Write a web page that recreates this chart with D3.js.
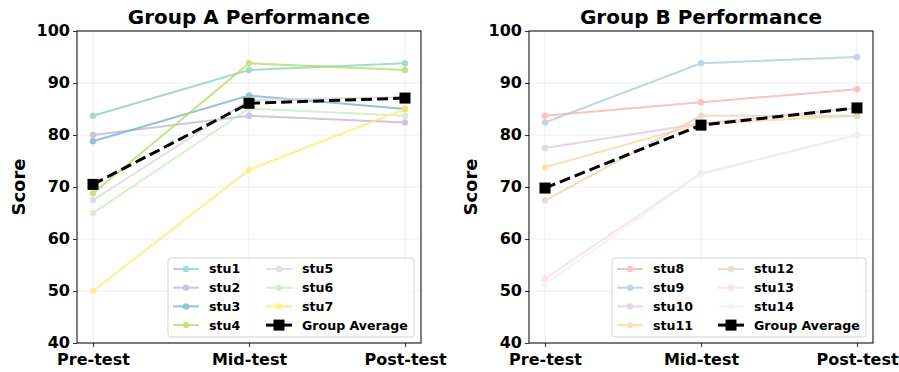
<!DOCTYPE html>
<html>
<head>
<meta charset="utf-8">
<script src="https://cdn.jsdelivr.net/npm/d3@7"></script>
<style>
  body { margin: 0; background: #fff; }
  svg text { font-family: "DejaVu Sans", sans-serif; font-weight: bold; fill: #000; }
</style>
</head>
<body>
<div id="chart"></div>
<script>
// data
const tests = ['Pre-test', 'Mid-test', 'Post-test'];
const yTicks = [40, 50, 60, 70, 80, 90, 100];

const groupANames = ['stu1', 'stu2', 'stu3', 'stu4', 'stu5', 'stu6', 'stu7'];
const groupAScores = [
  [83.7, 92.5, 93.8],
  [80.0, 83.7, 82.4],
  [78.8, 87.6, 85.0],
  [68.8, 93.8, 92.5],
  [67.5, 86.7, 87.3],
  [65.0, 85.1, 83.7],
  [50.0, 73.3, 85.0]
];
const groupAAvg = [70.5, 86.1, 87.1];
const groupAColors = ['#8dd3c7', '#bebada', '#80b1d3', '#b3de69', '#d9d9d9', '#ccebc5', '#ffed6f'];

const groupBNames = ['stu8', 'stu9', 'stu10', 'stu11', 'stu12', 'stu13', 'stu14'];
const groupBScores = [
  [83.7, 86.3, 88.8],
  [82.4, 93.8, 95.0],
  [77.5, 82.2, 85.2],
  [73.8, 82.2, 83.7],
  [67.4, 83.7, 83.7],
  [52.4, 72.6, 80.0],
  [51.3, 72.5, 80.0]
];
const groupBAvg = [69.8, 81.9, 85.2];
const groupBColors = ['#fbb4ae', '#b3cde3', '#decbe4', '#fed9a6', '#e5d8bd', '#fddaec', '#f2f2f2'];

const W = 899, H = 372;
const svg = d3.select('#chart').append('svg')
  .attr('width', W)
  .attr('height', H);

function drawPanel(left, title, names, scores, avg, colors, legendX, legendW, col2X) {
  let plotW = 344, top = 31, plotH = 312;

  let g = svg.append('g').attr('transform', `translate(${left},${top})`);

  let x = d3.scalePoint().domain(tests).range([16, plotW - 16]);
  let y = d3.scaleLinear().domain([40, 100]).range([plotH, 0]);

  // grid
  g.append('g').selectAll('line').data(yTicks).enter().append('line')
    .attr('x1', 0).attr('x2', plotW)
    .attr('y1', d => y(d)).attr('y2', d => y(d))
    .attr('stroke', '#b0b0b0').attr('stroke-opacity', 0.3).attr('stroke-width', 0.8);
  g.append('g').selectAll('line').data(tests).enter().append('line')
    .attr('x1', d => x(d)).attr('x2', d => x(d))
    .attr('y1', 0).attr('y2', plotH)
    .attr('stroke', '#b0b0b0').attr('stroke-opacity', 0.3).attr('stroke-width', 0.8);

  // axes
  let yAxis = g.append('g')
    .call(d3.axisLeft(y).tickValues(yTicks).tickSize(4).tickPadding(3));
  let xAxis = g.append('g')
    .attr('transform', `translate(0,${plotH})`)
    .call(d3.axisBottom(x).tickSize(4).tickPadding(3));
  [xAxis, yAxis].forEach(a => {
    a.select('.domain').remove();
    a.selectAll('text').style('font-size', '16px').style('font-family', '"DejaVu Sans", sans-serif').attr('font-weight', 'bold');
    a.selectAll('line').attr('stroke', '#000').attr('stroke-width', 0.8);
  });
  xAxis.selectAll('text').attr('dy', '0.95em');
  yAxis.selectAll('text').attr('dy', '0.3em');

  // frame
  g.append('rect')
    .attr('width', plotW).attr('height', plotH)
    .attr('fill', 'none').attr('stroke', '#000').attr('stroke-width', 1);

  let line = d3.line()
    .x((d, i) => x(tests[i]))
    .y(d => y(d));

  // students
  scores.forEach((s, k) => {
    let sg = g.append('g').attr('opacity', 0.8);
    sg.append('path')
      .attr('d', line(s))
      .attr('fill', 'none')
      .attr('stroke', colors[k])
      .attr('stroke-width', 2);
    sg.selectAll('circle').data(s).enter().append('circle')
      .attr('cx', (d, i) => x(tests[i]))
      .attr('cy', d => y(d))
      .attr('r', 3.2)
      .attr('fill', colors[k]);
  });

  // group average
  g.append('path')
    .attr('d', line(avg))
    .attr('fill', 'none')
    .attr('stroke', '#000')
    .attr('stroke-width', 3)
    .attr('stroke-dasharray', '11,5');
  g.selectAll('.avg-mark').data(avg).enter().append('rect')
    .attr('class', 'avg-mark')
    .attr('x', (d, i) => x(tests[i]) - 5.5)
    .attr('y', d => y(d) - 5.5)
    .attr('width', 11).attr('height', 11)
    .attr('fill', '#000');

  // title
  svg.append('text')
    .attr('x', left + plotW / 2)
    .attr('y', 24)
    .attr('text-anchor', 'middle')
    .style('font-size', '20px')
    .text(title);

  // y label
  svg.append('text')
    .attr('transform', `translate(${left - 52},${top + plotH / 2}) rotate(-90)`)
    .attr('text-anchor', 'middle')
    .style('font-size', '18px')
    .text('Score');

  // legend
  let lg = svg.append('g').attr('transform', `translate(${legendX},258)`);
  lg.append('rect')
    .attr('width', legendW).attr('height', 79)
    .attr('rx', 3)
    .attr('fill', '#fff').attr('fill-opacity', 0.8)
    .attr('stroke', '#d5d5d5').attr('stroke-width', 1);

  let items = names.map((n, k) => ({ name: n, color: colors[k], avg: false }));
  items.push({ name: 'Group Average', color: '#000', avg: true });
  let colX = [5, col2X];

  items.forEach((d, k) => {
    let col = k < 4 ? 0 : 1;
    let row = k % 4;
    let ig = lg.append('g')
      .attr('transform', `translate(${colX[col]},${11 + row * 18.7})`);
    if (d.avg) {
      ig.append('line')
        .attr('x1', 0).attr('x2', 26)
        .attr('stroke', '#000').attr('stroke-width', 3);
      ig.append('rect')
        .attr('x', 7.5).attr('y', -5.5).attr('width', 11).attr('height', 11)
        .attr('fill', '#000');
    } else {
      let h = ig.append('g').attr('opacity', 0.8);
      h.append('line')
        .attr('x1', 0).attr('x2', 26)
        .attr('stroke', d.color).attr('stroke-width', 2);
      h.append('circle')
        .attr('cx', 13).attr('r', 3.2).attr('fill', d.color);
    }
    ig.append('text')
      .attr('x', 36)
      .attr('dy', '0.35em')
      .style('font-size', '12.6px')
      .text(d.name);
  });
}

drawPanel(77, 'Group A Performance', groupANames, groupAScores, groupAAvg, groupAColors, 168, 246, 98);
drawPanel(529, 'Group B Performance', groupBNames, groupBScores, groupBAvg, groupBColors, 612, 254, 106);
</script>
</body>
</html>
